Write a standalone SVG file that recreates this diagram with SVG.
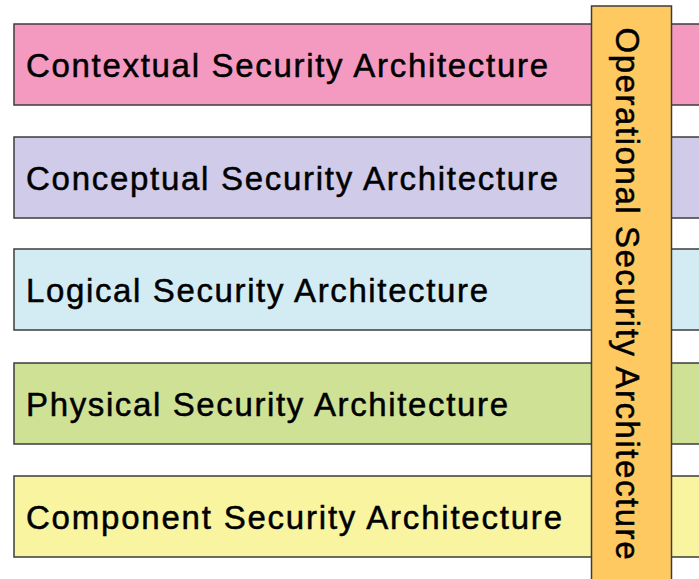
<svg xmlns="http://www.w3.org/2000/svg" width="699" height="579" viewBox="0 0 699 579">
  <style>
    .bar { stroke: #3c3c3c; stroke-width: 1.5; }
    .lbl { font-family: "Liberation Sans", Arial, sans-serif; font-size: 33px; fill: #000; stroke: #000; stroke-width: 0.5; }
  </style>
  <rect x="0" y="0" width="699" height="579" fill="#ffffff"/>
  <g id="contextual">
    <rect class="bar" x="14" y="24" width="700" height="81" fill="#f49ac1"/>
    <text class="lbl" x="26" y="76.5" textLength="522" lengthAdjust="spacing">Contextual Security Architecture</text>
  </g>
  <g id="conceptual">
    <rect class="bar" x="14" y="137" width="700" height="81" fill="#cfcbe8"/>
    <text class="lbl" x="26" y="189.5" textLength="532" lengthAdjust="spacing">Conceptual Security Architecture</text>
  </g>
  <g id="logical">
    <rect class="bar" x="14" y="249" width="700" height="81" fill="#d3ecf4"/>
    <text class="lbl" x="26" y="301.5" textLength="462" lengthAdjust="spacing">Logical Security Architecture</text>
  </g>
  <g id="physical">
    <rect class="bar" x="14" y="363" width="700" height="81" fill="#cfe195"/>
    <text class="lbl" x="26" y="415.5" textLength="482" lengthAdjust="spacing">Physical Security Architecture</text>
  </g>
  <g id="component">
    <rect class="bar" x="14" y="476" width="700" height="81" fill="#f8f4a0"/>
    <text class="lbl" x="26" y="528.5" textLength="536" lengthAdjust="spacing">Component Security Architecture</text>
  </g>
  <g id="operational">
    <rect class="bar" x="591.5" y="6" width="80" height="590" fill="#fdc960"/>
    <text class="lbl" transform="translate(616,27.5) rotate(90)" x="0" y="0" textLength="532" lengthAdjust="spacing">Operational Security Architecture</text>
  </g>
  <g id="connectors"></g>
</svg>
